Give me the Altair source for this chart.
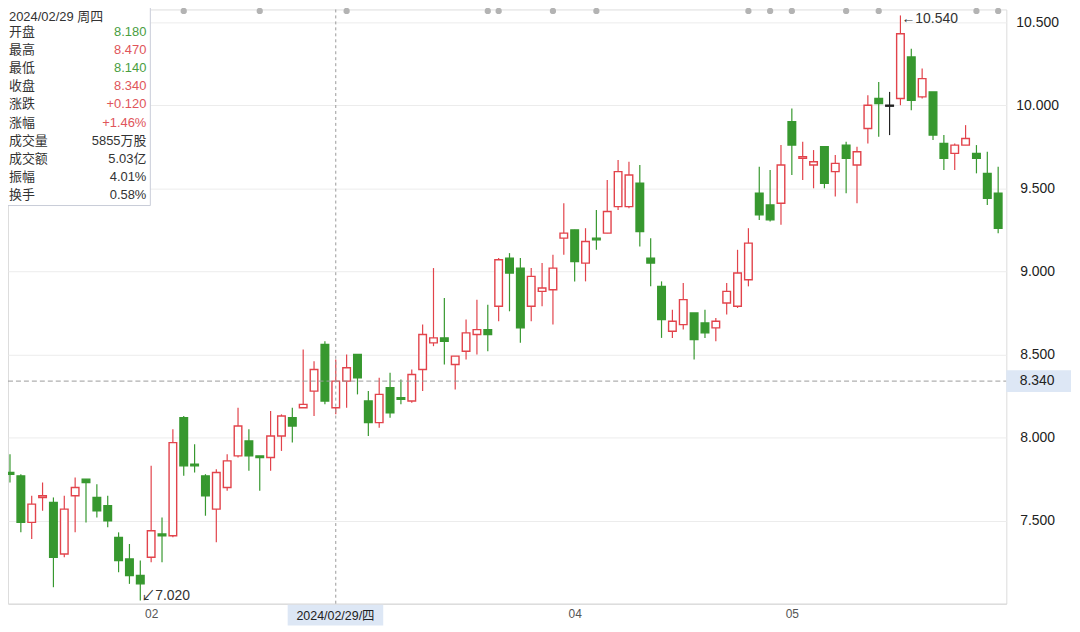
import altair as alt
import numpy as np
import pandas as pd

# ---------------- data ----------------
opens = [7.79, 7.77, 7.49, 7.64, 7.61, 7.30, 7.65, 7.75, 7.64, 7.59,
         7.40, 7.27, 7.17, 7.28, 7.42, 7.41, 8.12, 7.84, 7.77, 7.57,
         7.70, 7.89, 7.98, 7.89, 7.88, 8.01, 8.12, 8.18, 8.28, 8.56,
         8.18, 8.34, 8.50, 8.22, 8.09, 8.30, 8.24, 8.22, 8.41, 8.57,
         8.60, 8.44, 8.52, 8.62, 8.65, 8.79, 9.08, 9.02, 8.79, 8.88,
         8.89, 9.20, 9.25, 9.05, 9.20, 9.23, 9.39, 9.39, 9.53, 9.08,
         8.91, 8.64, 8.68, 8.75, 8.69, 8.66, 8.81, 8.79, 8.95, 9.47,
         9.40, 9.41, 9.90, 9.68, 9.64, 9.75, 9.60, 9.76, 9.64, 9.86,
         10.04, 10.00, 10.04, 10.29, 10.05, 10.08, 9.77, 9.71, 9.76, 9.71,
         9.59, 9.47]
highs = [7.90, 7.78, 7.65, 7.73, 7.64, 7.65, 7.76, 7.75, 7.72, 7.65,
         7.43, 7.36, 7.26, 7.83, 7.52, 8.05, 8.13, 7.96, 7.78, 7.81,
         7.90, 8.18, 8.05, 7.89, 8.16, 8.14, 8.18, 8.53, 8.46, 8.58,
         8.47, 8.50, 8.50, 8.28, 8.36, 8.39, 8.35, 8.41, 8.68, 9.02,
         8.84, 8.49, 8.71, 8.83, 8.80, 9.08, 9.11, 9.08, 9.02, 9.05,
         9.10, 9.41, 9.25, 9.26, 9.37, 9.55, 9.67, 9.66, 9.64, 9.20,
         8.94, 8.77, 8.93, 8.75, 8.77, 8.72, 8.93, 9.13, 9.26, 9.63,
         9.61, 9.76, 9.98, 9.78, 9.73, 9.75, 9.70, 9.78, 9.75, 10.06,
         10.14, 10.08, 10.54, 10.34, 10.22, 10.08, 9.82, 9.77, 9.88, 9.76,
         9.72, 9.63]
lows = [7.73, 7.43, 7.39, 7.56, 7.10, 7.28, 7.43, 7.49, 7.52, 7.46,
        7.19, 7.12, 7.02, 7.25, 7.25, 7.40, 7.77, 7.79, 7.53, 7.37,
        7.68, 7.88, 7.80, 7.68, 7.80, 7.92, 7.97, 8.18, 8.13, 8.20,
        8.14, 8.18, 8.26, 8.01, 8.06, 8.12, 8.20, 8.21, 8.28, 8.55,
        8.44, 8.29, 8.47, 8.50, 8.52, 8.70, 8.76, 8.57, 8.70, 8.79,
        8.68, 9.10, 8.94, 8.94, 9.13, 9.23, 9.37, 9.38, 9.15, 8.91,
        8.60, 8.60, 8.65, 8.47, 8.60, 8.58, 8.74, 8.78, 8.91, 9.31,
        9.30, 9.28, 9.58, 9.55, 9.50, 9.50, 9.45, 9.47, 9.41, 9.77,
        9.81, 9.82, 10.00, 9.97, 10.04, 9.79, 9.61, 9.61, 9.76, 9.59,
        9.40, 9.23]
closes = [7.78, 7.49, 7.60, 7.65, 7.28, 7.57, 7.70, 7.73, 7.56, 7.50,
          7.26, 7.17, 7.12, 7.44, 7.41, 7.97, 7.83, 7.83, 7.65, 7.79,
          7.86, 8.07, 7.89, 7.88, 8.01, 8.13, 8.07, 8.20, 8.41, 8.22,
          8.34, 8.42, 8.36, 8.09, 8.26, 8.15, 8.23, 8.38, 8.62, 8.60,
          8.58, 8.49, 8.63, 8.65, 8.62, 9.07, 8.99, 8.66, 8.97, 8.90,
          9.02, 9.23, 9.06, 9.18, 9.19, 9.36, 9.60, 9.58, 9.24, 9.05,
          8.71, 8.70, 8.83, 8.59, 8.63, 8.70, 8.88, 8.99, 9.17, 9.34,
          9.31, 9.64, 9.76, 9.69, 9.66, 9.53, 9.65, 9.68, 9.72, 10.00,
          10.01, 10.00, 10.43, 10.03, 10.16, 9.82, 9.68, 9.76, 9.80, 9.68,
          9.44, 9.26]

y_tick_values = [7.5, 8.0, 8.5, 9.0, 9.5, 10.0, 10.5]
month_tick_index = [13, 52, 72]
month_tick_labels = ["02", "04", "05"]
event_index = [16, 23, 31, 44, 45, 50, 54, 68, 70, 72, 77, 80, 89, 91]

cursor_index = 30
cursor_date_text = "2024/02/29/四"
cursor_price = 8.34
cursor_price_text = "8.340"

info_title = "2024/02/29 周四"
info_names = ["开盘", "最高", "最低", "收盘", "涨跌", "涨幅", "成交量", "成交额", "振幅", "换手"]
info_values = ["8.180", "8.470", "8.140", "8.340", "+0.120", "+1.46%", "5855万股", "5.03亿", "4.01%", "0.58%"]
info_tones = ["down", "up", "down", "up", "up", "up", "flat", "flat", "flat", "flat"]

max_index, max_price, max_text = 82, 10.54, "←10.540"
min_index, min_price, min_text = 12, 7.02, "↙7.020"

# ---------------- styles ----------------
RED = "#e2434b"
GREEN = "#37982f"
RED_TXT = "#e0555a"
GREEN_TXT = "#4a9e3f"
FONT = "Liberation Sans, Noto Sans CJK SC, sans-serif"
W, H = 1003, 597
X_DOMAIN = [-0.183, 91.75]
Y_DOMAIN = [7.001, 10.576]

n = len(opens)
df = pd.DataFrame({"i": np.arange(n), "o": opens, "h": highs, "l": lows, "c": closes})
df["dir"] = ["up" if c > o else ("down" if c < o else "flat") for o, c in zip(opens, closes)]
df["top"] = np.maximum(df["o"], df["c"])
df["bot"] = np.minimum(np.minimum(df["o"], df["c"]), df["top"] - 0.006)
df["x0"] = df["i"] - 0.35
df["x1"] = df["i"] + 0.35

xs = alt.Scale(domain=X_DOMAIN, nice=False, zero=False)
ys = alt.Scale(domain=Y_DOMAIN, nice=False, zero=False)
stroke_scale = alt.Scale(domain=["up", "down", "flat"], range=[RED, GREEN, "#222222"])
fill_scale = alt.Scale(domain=["up", "down", "flat"], range=["#ffffff", GREEN, "#222222"])
tone_scale = alt.Scale(domain=["up", "down", "flat"], range=[RED_TXT, GREEN_TXT, "#333333"])

label_expr = " : ".join(f"datum.value == {i} ? '{t}'" for i, t in zip(month_tick_index, month_tick_labels)) + " : ''"

x_axis = alt.Axis(values=month_tick_index, labelExpr=label_expr, grid=False, tickSize=0,
                  labelPadding=5, labelFontSize=12, labelColor="#555555", labelFont=FONT,
                  domainColor="#d8d8d8", title=None)
y_axis = alt.Axis(orient="right", values=y_tick_values, format=".3f", grid=True,
                  gridColor="#ececec", tickSize=0, labelPadding=31, labelAlign="center",
                  labelFontSize=14, labelColor="#222222", labelFont=FONT, domain=False, title=None)

base = alt.Chart(df)

wicks = base.mark_rule(strokeWidth=1.2).encode(
    x=alt.X("i:Q", scale=xs, axis=x_axis),
    y=alt.Y("l:Q", scale=ys, axis=y_axis),
    y2="h:Q",
    stroke=alt.Stroke("dir:N", scale=stroke_scale, legend=None),
)

bodies = base.mark_rect(strokeWidth=1.4).encode(
    x=alt.X("x0:Q", scale=xs, title=None),
    x2="x1:Q",
    y=alt.Y("top:Q", scale=ys, title=None),
    y2="bot:Q",
    stroke=alt.Stroke("dir:N", scale=stroke_scale, legend=None),
    fill=alt.Fill("dir:N", scale=fill_scale, legend=None),
)

one = pd.DataFrame({"k": [0]})

vline = alt.Chart(one).mark_rule(color="#9a9a9a", strokeDash=[3, 3], strokeWidth=1).encode(
    x=alt.datum(cursor_index), y=alt.value(0), y2=alt.value(H))
hline = alt.Chart(one).mark_rule(color="#9a9a9a", strokeDash=[5, 3], strokeWidth=1).encode(
    y=alt.datum(cursor_price), x=alt.value(0), x2=alt.value(W))

price_box = alt.Chart(one).mark_rect(fill="#dde7f5").encode(
    x=alt.value(W), x2=alt.value(W + 65),
    y=alt.datum(cursor_price + 0.066), y2=alt.datum(cursor_price - 0.066))
price_txt = alt.Chart(one).mark_text(font=FONT, fontSize=14, color="#222222", align="center",
                                     baseline="middle").encode(
    x=alt.value(W + 31), y=alt.datum(cursor_price), text=alt.value(cursor_price_text))

date_box = alt.Chart(one).mark_rect(fill="#dde7f5").encode(
    x=alt.value(281), x2=alt.value(377), y=alt.value(598), y2=alt.value(619))
date_txt = alt.Chart(one).mark_text(font=FONT, fontSize=12.5, color="#222222", align="center",
                                    baseline="middle").encode(
    x=alt.value(329), y=alt.value(609), text=alt.value(cursor_date_text))

dots = alt.Chart(pd.DataFrame({"i": event_index})).mark_circle(size=40, color="#b3b3b3", opacity=1).encode(
    x=alt.X("i:Q", scale=xs, title=None), y=alt.value(1.5))

max_lbl = alt.Chart(one).mark_text(font=FONT, fontSize=14, color="#333333", align="left",
                                   baseline="middle", dx=1, dy=4).encode(
    x=alt.datum(max_index), y=alt.datum(max_price), text=alt.value(max_text))
min_lbl = alt.Chart(one).mark_text(font=FONT, fontSize=14, color="#333333", align="left",
                                   baseline="bottom", dx=1, dy=2).encode(
    x=alt.datum(min_index), y=alt.datum(min_price), text=alt.value(min_text))

# info panel
rows = list(range(len(info_names) + 1))
info_df = pd.DataFrame({
    "row": rows,
    "name": [info_title] + info_names,
    "value": [""] + info_values,
    "tone": ["flat"] + info_tones,
})
span = Y_DOMAIN[1] - Y_DOMAIN[0]
py = np.maximum(7.5, 5 + 18.1 * info_df["row"])
info_df["yv"] = Y_DOMAIN[1] - py / H * span

info_box = alt.Chart(one).mark_rect(fill="#ffffff", stroke="#c9cdd8", strokeWidth=1).encode(
    x=alt.value(-3), x2=alt.value(143), y=alt.value(-8), y2=alt.value(197))
info_names_txt = alt.Chart(info_df).mark_text(font=FONT, fontSize=13, color="#333333",
                                              align="left", baseline="middle").encode(
    x=alt.value(1), y=alt.Y("yv:Q", scale=ys, title=None), text="name:N")
info_vals_txt = alt.Chart(info_df).mark_text(font=FONT, fontSize=13, align="right",
                                             baseline="middle").encode(
    x=alt.value(139), y=alt.Y("yv:Q", scale=ys, title=None), text="value:N",
    color=alt.Color("tone:N", scale=tone_scale, legend=None))

chart = alt.layer(
    wicks, bodies, hline, vline, price_box, price_txt, date_box, date_txt, dots,
    max_lbl, min_lbl, info_box, info_names_txt, info_vals_txt
).properties(
    width=W, height=H,
    autosize=alt.AutoSizeParams(type="none"),
    padding={"left": 0, "top": 0, "right": 66, "bottom": 24},
).configure_view(stroke="#dadada").configure(background="#ffffff")

chart.save("out.html", embed_options={"renderer": "svg", "actions": False})
